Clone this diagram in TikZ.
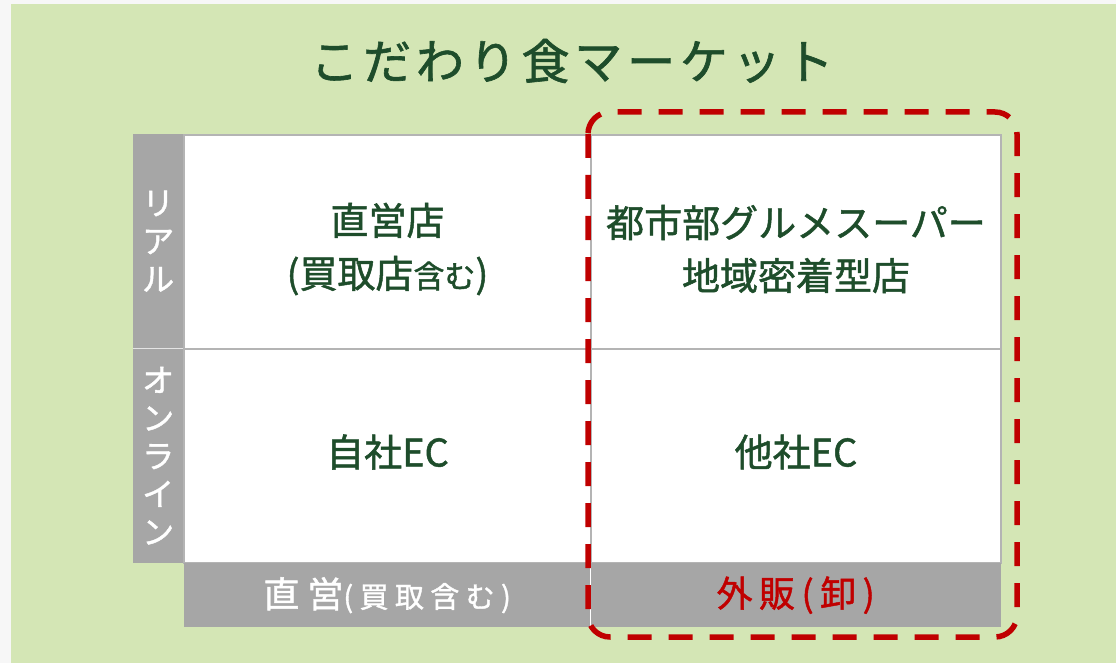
\documentclass[tikz,border=0pt]{standalone}
\usepackage{fontspec}
\setmainfont{Noto Sans CJK JP}[FakeBold=1.3]
\definecolor{outer}{HTML}{F7F7F7}
\definecolor{bggreen}{HTML}{D4E6B5}
\definecolor{txtgreen}{HTML}{1E4D2B}
\definecolor{barg}{HTML}{A6A6A6}
\definecolor{gridg}{HTML}{B4B4B4}
\definecolor{accred}{HTML}{C00000}
\tikzset{
  cell/.style={fill=white, draw=gridg, line width=2pt, anchor=north west, inner sep=0pt},
  celltext/.style={text=txtgreen, align=center, inner sep=0pt, font=\fontsize{38}{53}\selectfont},
  sidebar/.style={fill=barg, anchor=north west, inner sep=0pt, text=white, align=center,
    minimum width=50pt, font=\fontsize{32}{38}\selectfont},
  bottombar/.style={fill=barg, anchor=north west, inner sep=0pt, minimum height=64pt},
  scope box/.style={draw=accred, line width=5.5pt, dash pattern=on 24pt off 17pt, rounded corners=22pt},
}
\begin{document}
\begin{tikzpicture}[x=1pt,y=-1pt]
\useasboundingbox (0,0) rectangle (1116,663);
\fill[outer] (0,0) rectangle (1116,663);
\fill[bggreen] (11,4) rectangle (1116,663);
\node[font=\fontsize{48}{50}\selectfont\addfontfeatures{LetterSpace=10}, text=txtgreen] (title) at (572,61) {こだわり食マーケット};
% side bar
\node[sidebar, minimum height=214pt] (real) at (133,134) {リ\\ア\\ル};
\node[sidebar, minimum height=215pt] (online) at (133,348) {オ\\ン\\ラ\\イ\\ン};
\draw[white!70!barg, line width=1.5pt] (real.south west) -- (real.south east);
% cells
\node[cell, minimum width=407pt, minimum height=214pt] (c11) at (183,134) {};
\node[cell, minimum width=410pt, minimum height=214pt] (c12) at (590,134) {};
\node[cell, minimum width=407pt, minimum height=214pt] (c21) at (183,348) {};
\node[cell, minimum width=410pt, minimum height=214pt] (c22) at (590,348) {};
\node[celltext] (t11) at ([yshift=-7pt]c11.center) {直営店\\(買取店{\fontsize{31}{53}\selectfont 含む})};
\node[celltext] (t12) at ([yshift=-7pt]c12.center) {都市部グルメスーパー\\地域密着型店};
\node[celltext] (t21) at ([yshift=4pt]c21.center) {自社EC};
\node[celltext] (t22) at ([yshift=4pt]c22.center) {他社EC};
% bottom bar
\node[bottombar, minimum width=406pt, text=white] (b1) at (184,563)
  {\fontsize{36}{36}\selectfont\addfontfeatures{LetterSpace=22}直営{\fontsize{29}{29}\selectfont(買取含む)}};
\node[bottombar, minimum width=411pt, text=accred] (b2) at (590,563)
  {\fontsize{36}{36}\selectfont\addfontfeatures{LetterSpace=18}外販(卸)};
\draw[white, line width=1pt] (b1.north east) -- (b1.south east);
% dashed scope
\draw[scope box] (588,112) rectangle (1017,637);
\end{tikzpicture}
\end{document}
